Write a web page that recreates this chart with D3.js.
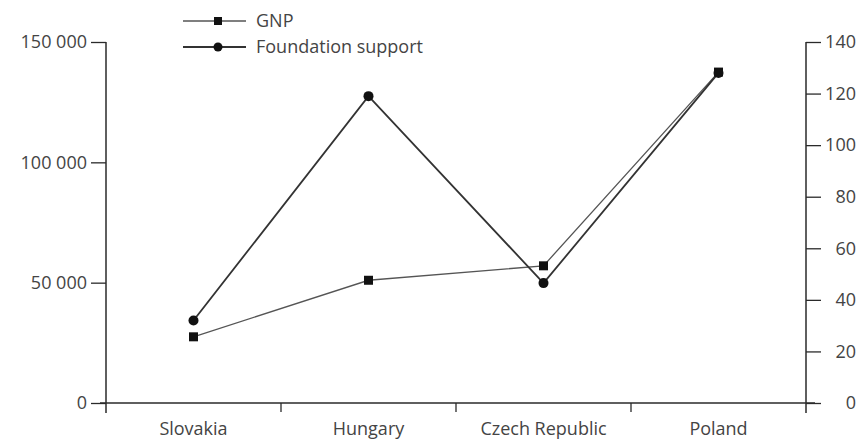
<!DOCTYPE html>
<html><head><meta charset="utf-8">
<script src="https://cdn.jsdelivr.net/npm/d3@7"></script>
<style>
body{margin:0;background:#fff;}
svg text{font-family:"Open Sans",sans-serif;fill:#444;}
</style></head>
<body><svg id="c" width="860" height="443"></svg>
<script>
const categories = ["Slovakia","Hungary","Czech Republic","Poland"];
const gnp = [27500, 51000, 57000, 137500];
const foundation = [32, 119, 46.5, 128];
const leftTicks = [0, 50000, 100000, 150000];
const rightTicks = [0, 20, 40, 60, 80, 100, 120, 140];
const seriesNames = ["GNP", "Foundation support"];

const svg = d3.select("#c");
const L = 106, R = 806, T = 42, B = 403;
const x = d3.scaleBand().domain(categories).range([L, R]);
const yL = d3.scaleLinear().domain([0,150000]).range([B, T]);
const yR = d3.scaleLinear().domain([0,140]).range([B, T]);
const fmt = d3.formatLocale({decimal:".", thousands:" ", grouping:[3], currency:["",""]}).format(",d");
const fs = "18px";
const axisCol = "#2a2a2a";
const txtCol = "#444";

// left axis
const gl = svg.append("g").attr("transform",`translate(${L},0)`)
  .call(d3.axisLeft(yL).tickValues(leftTicks).tickFormat(fmt).tickSize(15).tickPadding(4));
gl.select(".domain").remove();
gl.selectAll("line").attr("stroke",axisCol).attr("stroke-width",1.3);
gl.selectAll("text").style("font-size",fs).attr("fill",txtCol);
svg.append("line").attr("x1",L).attr("x2",L).attr("y1",T).attr("y2",B+10).attr("stroke",axisCol).attr("stroke-width",1.5);

// right axis
const gr = svg.append("g").attr("transform",`translate(${R},0)`)
  .call(d3.axisRight(yR).tickValues(rightTicks).tickSize(15).tickPadding(2));
gr.select(".domain").remove();
gr.selectAll("line").attr("stroke",axisCol).attr("stroke-width",1.3);
gr.selectAll("text").style("font-size",fs).attr("text-anchor","end").attr("x",50).attr("fill",txtCol);
svg.append("line").attr("x1",R).attr("x2",R).attr("y1",T).attr("y2",B+10).attr("stroke",axisCol).attr("stroke-width",1.5);

// bottom axis
svg.append("line").attr("x1",L-6).attr("x2",R+9).attr("y1",B).attr("y2",B).attr("stroke",axisCol).attr("stroke-width",1.3);
const edges = categories.map(c=>x(c)).concat([x(categories[categories.length-1])+x.bandwidth()]);
svg.append("g").selectAll("line").data(edges.slice(1,-1)).join("line")
  .attr("x1",d=>d).attr("x2",d=>d).attr("y1",B).attr("y2",B+9).attr("stroke",axisCol).attr("stroke-width",1.3);
const gb = svg.append("g").attr("transform",`translate(0,${B})`)
  .call(d3.axisBottom(x).tickSize(0).tickPadding(19));
gb.select(".domain").remove();
gb.selectAll("text").style("font-size",fs).attr("fill",txtCol);

const cx = c => x(c) + x.bandwidth()/2;

// GNP line
const lineG = d3.line().x((d,i)=>cx(categories[i])).y(d=>yL(d));
svg.append("path").datum(gnp).attr("d",lineG).attr("fill","none").attr("stroke","#555").attr("stroke-width",1.3);
// Foundation line
const lineF = d3.line().x((d,i)=>cx(categories[i])).y(d=>yR(d));
svg.append("path").datum(foundation).attr("d",lineF).attr("fill","none").attr("stroke","#333").attr("stroke-width",1.8);

svg.append("g").selectAll("rect").data(gnp).join("rect")
  .attr("x",(d,i)=>cx(categories[i])-4.5).attr("y",d=>yL(d)-4.5).attr("width",9).attr("height",9).attr("fill","#111");
svg.append("g").selectAll("circle").data(foundation).join("circle")
  .attr("cx",(d,i)=>cx(categories[i])).attr("cy",d=>yR(d)).attr("r",5).attr("fill","#111");

// legend
const lg = svg.append("g");
const legY = [21, 47];
lg.selectAll("line").data(seriesNames).join("line")
  .attr("x1",183).attr("x2",246).attr("y1",(d,i)=>legY[i]).attr("y2",(d,i)=>legY[i])
  .attr("stroke",(d,i)=>i?"#333":"#555").attr("stroke-width",(d,i)=>i?1.8:1.3);
lg.append("rect").attr("x",218-4).attr("y",legY[0]-4).attr("width",8).attr("height",8).attr("fill","#111");
lg.append("circle").attr("cx",218).attr("cy",legY[1]).attr("r",4.5).attr("fill","#111");
lg.selectAll("text").data(seriesNames).join("text")
  .attr("x",256).attr("y",(d,i)=>legY[i]+6).style("font-size",fs).attr("fill",txtCol).text(d=>d);
</script></body></html>
